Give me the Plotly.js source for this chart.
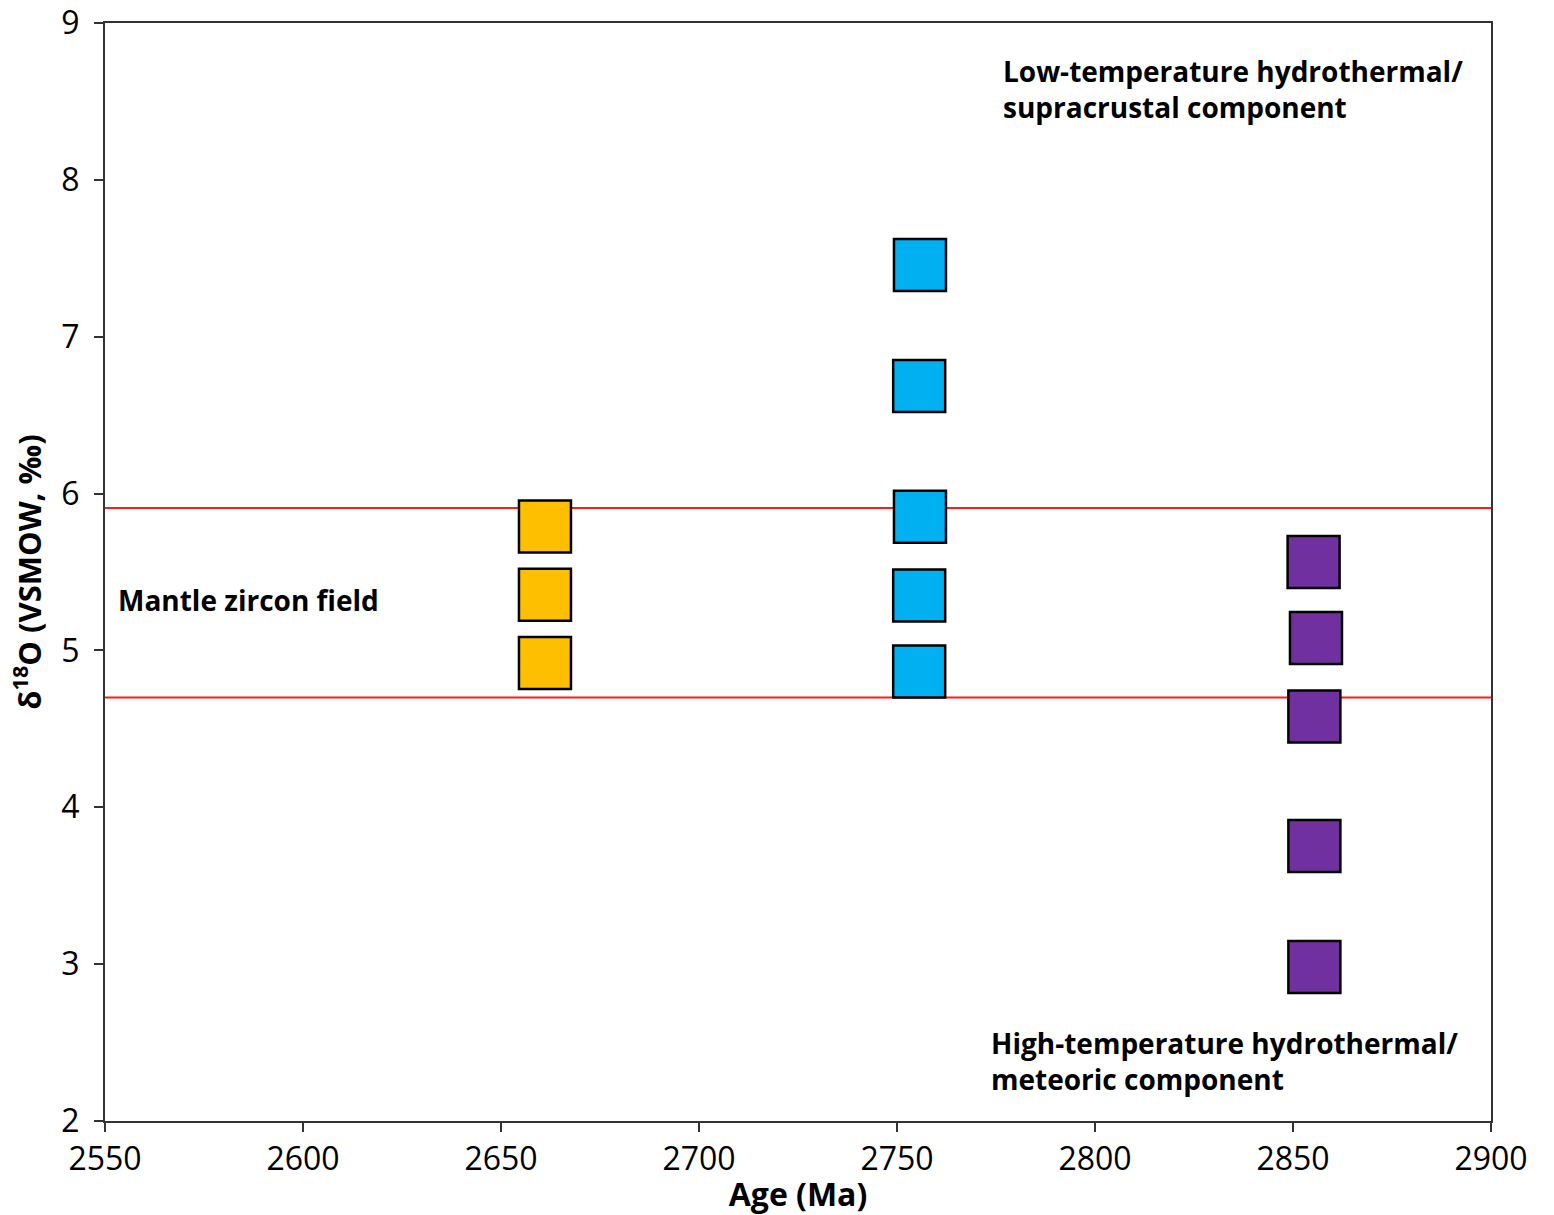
<!DOCTYPE html>
<html>
<head>
<meta charset="utf-8">
<script src="https://cdn.plot.ly/plotly-3.0.1.min.js"></script>
<style>html,body{margin:0;padding:0;background:#fff;}#chart{width:1554px;height:1215px;}</style>
</head>
<body>
<div id="chart"></div>
<script>
// Data
const yellowAge = [2661.1, 2661.1, 2661.1];
const yellowD18O = [5.79, 5.355, 4.92];
const blueAge = [2755.8, 2755.6, 2755.8, 2755.6, 2755.6];
const blueD18O = [7.457, 6.686, 5.853, 5.35, 4.866];
const purpleAge = [2855.2, 2855.8, 2855.4, 2855.4, 2855.4];
const purpleD18O = [5.564, 5.08, 4.578, 3.753, 2.982];
const mantleFieldAge = [2550, 2900];
const mantleUpper = [5.908, 5.908];
const mantleLower = [4.70, 4.70];
const xTicks = [2550, 2600, 2650, 2700, 2750, 2800, 2850, 2900];
const yTicks = [2, 3, 4, 5, 6, 7, 8, 9];

const fontFam = '"Open Sans", "DejaVu Sans", sans-serif';
const lineStyle = {color: '#ff1a1a', width: 2};
function markerOf(color) {
  return {symbol: 'square', size: 52, color: color, line: {color: '#000', width: 2.5}};
}

const traces = [
  {x: mantleFieldAge, y: mantleUpper, mode: 'lines', line: lineStyle, hoverinfo: 'skip'},
  {x: mantleFieldAge, y: mantleLower, mode: 'lines', line: lineStyle, hoverinfo: 'skip'},
  {x: yellowAge, y: yellowD18O, mode: 'markers', marker: markerOf('#fdbf00')},
  {x: blueAge, y: blueD18O, mode: 'markers', marker: markerOf('#00b0f0')},
  {x: purpleAge, y: purpleD18O, mode: 'markers', marker: markerOf('#7030a0')}
];

const annFont = {family: fontFam, size: 28, color: '#000', weight: 'bold'};
const layout = {
  width: 1554, height: 1215,
  margin: {l: 105, r: 63, t: 23, b: 94},
  paper_bgcolor: '#fff', plot_bgcolor: '#fff',
  showlegend: false,
  font: {family: fontFam, color: '#000'},
  xaxis: {
    range: [2550, 2900], tickvals: xTicks, ticktext: xTicks.map(String),
    showgrid: false, zeroline: false,
    showline: true, linecolor: '#333', linewidth: 2, mirror: true,
    ticks: 'outside', ticklen: 9, tickwidth: 2, tickcolor: '#333',
    tickfont: {family: fontFam, size: 32, color: '#000'},
    title: {text: '<b>Age (Ma)</b>', font: {family: fontFam, size: 32, color: '#000'}, standoff: 2}
  },
  yaxis: {
    range: [2, 9], tickvals: yTicks, ticktext: yTicks.map(String),
    showgrid: false, zeroline: false,
    showline: true, linecolor: '#333', linewidth: 2, mirror: true,
    ticks: 'outside', ticklen: 9, tickwidth: 2, tickcolor: '#333',
    ticklabelstandoff: 8,
    tickfont: {family: fontFam, size: 32, color: '#000'},
    title: {text: '<b>δ<sup>18</sup>O (VSMOW, ‰)</b>', font: {family: fontFam, size: 31, color: '#000'}, standoff: 10}
  },
  annotations: [
    {xref: 'paper', yref: 'paper', x: (116-105)/1386, y: 1-(600-23)/1098, xanchor: 'left', yanchor: 'middle',
     text: 'Mantle zircon field', showarrow: false, font: annFont, align: 'left'},
    {xref: 'paper', yref: 'paper', x: (1001-105)/1386, y: 1-(89-23)/1098, xanchor: 'left', yanchor: 'middle',
     text: 'Low-temperature hydrothermal/<br>supracrustal component', showarrow: false, font: annFont, align: 'left'},
    {xref: 'paper', yref: 'paper', x: (989-105)/1386, y: 1-(1061-23)/1098, xanchor: 'left', yanchor: 'middle',
     text: 'High-temperature hydrothermal/<br>meteoric component', showarrow: false, font: annFont, align: 'left'}
  ]
};

Plotly.newPlot('chart', traces, layout, {staticPlot: true, displayModeBar: false});
</script>
</body>
</html>
